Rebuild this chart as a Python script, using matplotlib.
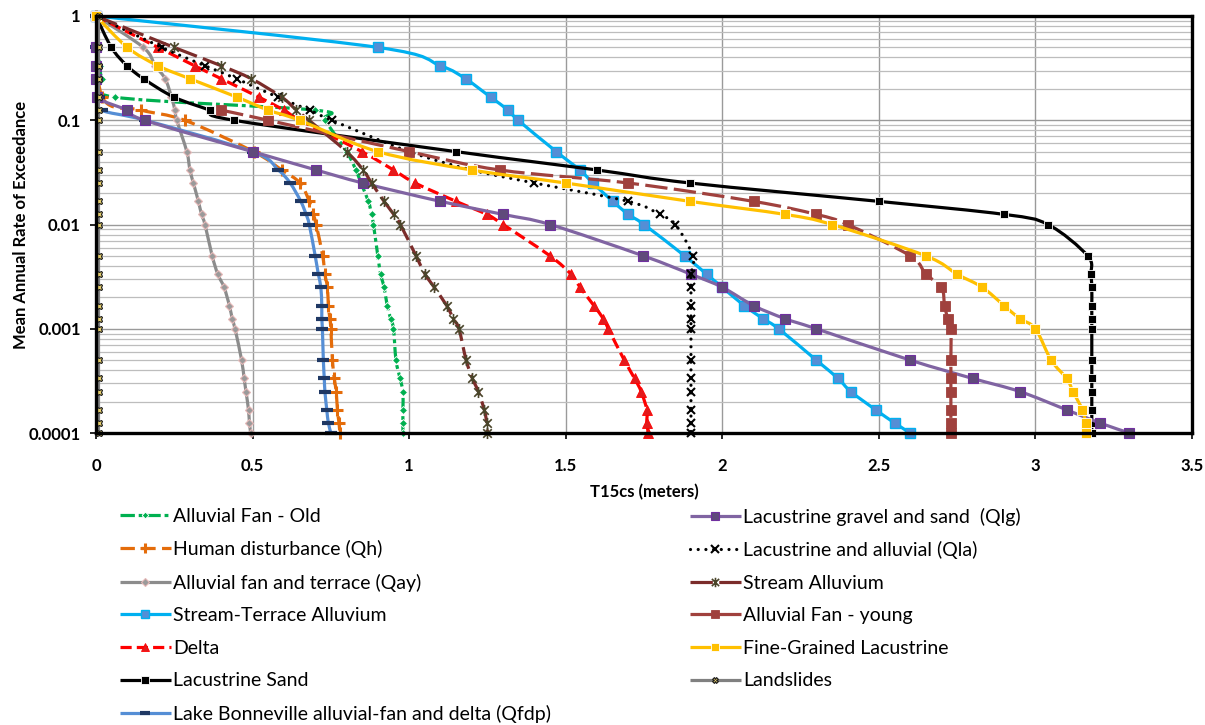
import numpy as np
import matplotlib
matplotlib.use("Agg")
import matplotlib.pyplot as plt
from matplotlib.path import Path
from matplotlib.patches import PathPatch
from matplotlib.lines import Line2D
from matplotlib.ticker import FixedLocator, FixedFormatter, NullFormatter, LogLocator

plt.rcParams['font.family'] = ['Lato', 'DejaVu Sans']

nan = np.nan

# Return periods (years); the y value is the mean annual rate 1/T
return_periods = np.array([1, 2, 3, 4, 6, 8, 10, 20, 30, 40, 60, 80, 100,
                           200, 300, 400, 600, 800, 1000, 2000, 3000, 4000,
                           6000, 8000, 10000], dtype=float)
rates = 1.0 / return_periods

# T15cs displacement (m) at each rate, one list per geologic unit
alluvial_fan_old = [0, 0.005, 0.012, 0.02, 0.06, 0.70, 0.73, 0.80, 0.83, 0.846, 0.87, 0.88,
                    0.886, 0.90, 0.909, 0.92, 0.93, 0.941, 0.95, 0.958, 0.971, 0.98, 0.98,
                    0.98, 0.98]
human_disturbance = [0, nan, nan, nan, 0.02, 0.145, 0.283, 0.503, 0.593, 0.652, 0.681, 0.694,
                     0.703, 0.724, 0.731, 0.739, 0.742, 0.747, 0.75, 0.755, 0.761, 0.767,
                     0.771, 0.776, 0.779]
fan_and_terrace = [0, 0.151, 0.189, 0.221, 0.241, 0.252, 0.258, 0.29, 0.30, 0.311, 0.327,
                   0.337, 0.348, 0.371, 0.389, 0.409, 0.426, 0.435, 0.444, 0.465, 0.473,
                   0.479, 0.487, 0.49, 0.494]
stream_terrace = [0, 0.90, 1.10, 1.18, 1.26, 1.316, 1.348, 1.47, 1.545, 1.587, 1.65, 1.70,
                  1.75, 1.88, 1.95, 2.0, 2.07, 2.13, 2.18, 2.30, 2.37, 2.41, 2.49, 2.55, 2.60]
delta = [0, 0.198, 0.315, 0.40, 0.52, 0.60, 0.652, 0.849, 0.95, 1.019, 1.15, 1.248, 1.30,
         1.45, 1.517, 1.546, 1.59, 1.62, 1.636, 1.687, 1.72, 1.741, 1.759, 1.759, 1.764]
lacustrine_sand = [0, 0.049, 0.099, 0.152, 0.249, 0.363, 0.44, 1.15, 1.60, 1.897, 2.50, 2.90,
                   3.04, 3.167, 3.177, 3.18, 3.18, 3.18, 3.18, 3.18, 3.18, 3.18, 3.18, 3.18,
                   3.18]
bonneville_qfdp = [0, 0.001, 0.002, 0.003, 0.01, 0.018, 0.157, 0.50, 0.582, 0.62, 0.654,
                   0.671, 0.681, 0.70, 0.71, 0.718, 0.721, 0.721, 0.723, 0.726, 0.729, 0.731,
                   0.737, 0.742, 0.75]
gravel_sand_qlg = [0, 0.0, 0.0, 0.0, 0.003, 0.10, 0.155, 0.50, 0.703, 0.852, 1.10, 1.30, 1.45,
                   1.748, 1.90, 2.0, 2.10, 2.20, 2.30, 2.60, 2.80, 2.95, 3.10, 3.205, 3.30]
lacustrine_alluvial_qla = [0, 0.21, 0.348, 0.449, 0.58, 0.682, 0.753, 1.0, 1.2, 1.40, 1.70,
                           1.80, 1.85, 1.906, 1.90, 1.90, 1.90, 1.90, 1.90, 1.90, 1.90, 1.90,
                           1.90, 1.90, 1.90]
stream_alluvium = [0, 0.249, 0.40, 0.496, 0.593, 0.64, 0.68, 0.80, 0.853, 0.88, 0.92, 0.951,
                   0.972, 1.022, 1.051, 1.08, 1.12, 1.141, 1.159, 1.182, 1.202, 1.221, 1.24,
                   1.248, 1.25]
alluvial_fan_young = [nan, nan, nan, nan, nan, 0.40, 0.55, 1.0, 1.29, 1.70, 2.10, 2.30, 2.40,
                      2.60, 2.65, 2.70, 2.71, 2.72, 2.73, 2.73, 2.73, 2.73, 2.73, 2.73, 2.73]
fine_grained = [0, 0.10, 0.198, 0.30, 0.45, 0.55, 0.65, 0.90, 1.20, 1.50, 1.897, 2.20, 2.35,
                2.65, 2.75, 2.83, 2.90, 2.95, 3.00, 3.05, 3.10, 3.12, 3.15, 3.16, 3.162]
landslides = [0.008] * 25

# Asterisk marker: an "x" crossed by a vertical bar
asterisk = Path([(-1, -1), (1, 1), (-1, 1), (1, -1), (0, -1.3), (0, 1.3)],
                [Path.MOVETO, Path.LINETO, Path.MOVETO, Path.LINETO, Path.MOVETO, Path.LINETO])

series = [
    ("Alluvial Fan - Old", alluvial_fan_old,
     dict(color='#00B050', dashes=(4.5, 1.2, 1.2, 1.2), cap='butt', marker='D', ms=4,
          mfc='#00B050', mec='white', mew=0.6)),
    ("Human disturbance (Qh)", human_disturbance,
     dict(color='#E46C0A', dashes=(4.5, 2), cap='butt', marker='+', ms=8,
          mfc='#E46C0A', mec='#E46C0A', mew=2.2)),
    ("Alluvial fan and terrace (Qay)", fan_and_terrace,
     dict(color='#8C8C8C', dashes=None, cap='butt', marker='D', ms=4.5,
          mfc='#9A9A9A', mec='#E6B9B8', mew=0.8)),
    ("Stream-Terrace Alluvium", stream_terrace,
     dict(color='#00B0F0', dashes=None, cap='round', marker='s', ms=7,
          mfc='#558ED5', mec='#00B0F0', mew=1.0)),
    ("Delta", delta,
     dict(color='#FF0000', dashes=(3.5, 1.6), cap='butt', marker='^', ms=7.5,
          mfc='#E31A1C', mec='#FF0000', mew=0.6)),
    ("Lacustrine Sand", lacustrine_sand,
     dict(color='black', dashes=None, cap='round', marker='s', ms=6,
          mfc='black', mec='white', mew=0.6)),
    ("Lake Bonneville alluvial-fan and delta (Qfdp)", bonneville_qfdp,
     dict(color='#558ED5', dashes=None, cap='round', marker='_', ms=8,
          mfc='#1F3864', mec='#1F3864', mew=3.0)),
    ("Lacustrine gravel and sand  (Qlg)", gravel_sand_qlg,
     dict(color='#8064A2', dashes=None, cap='round', marker='s', ms=7.5,
          mfc='#604A7B', mec='#7030A0', mew=0.8)),
    ("Lacustrine and alluvial (Qla)", lacustrine_alluvial_qla,
     dict(color='black', dashes=(0.01, 2.4), cap='round', marker='x', ms=6,
          mfc='black', mec='black', mew=1.5)),
    ("Stream Alluvium", stream_alluvium,
     dict(color='#7B2C2A', dashes=(7, 2), cap='butt', marker=asterisk, ms=8,
          mfc='none', mec='#4A452A', mew=1.2)),
    ("Alluvial Fan - young", alluvial_fan_young,
     dict(color='#A0413D', dashes=(7, 2), cap='butt', marker='s', ms=6.5,
          mfc='#A0413D', mec='#A0413D', mew=0.6)),
    ("Fine-Grained Lacustrine", fine_grained,
     dict(color='#FFC000', dashes=None, cap='round', marker='s', ms=6.5,
          mfc='#FFC000', mec='white', mew=0.6)),
    ("Landslides", landslides,
     dict(color='#808080', dashes=None, cap='round', marker='X', ms=5,
          mfc='#E2CB6A', mec='#1A1A1A', mew=0.8)),
]

W, H = 1205, 725
L, R, T, B = 96, 1192, 16, 433
fig = plt.figure(figsize=(W / 100, H / 100), dpi=100)
ax = fig.add_axes([L / W, 1 - B / H, (R - L) / W, (B - T) / H])

XMAX, DECADES = 3.5, 4.0
SX = (R - L) / XMAX
SY = (B - T) / DECADES


def smooth_path(xs, ys):
    """Bezier path through the points, tension computed in screen space."""
    P = np.column_stack([np.asarray(xs) * SX, np.log10(ys) * SY])
    n = len(P)
    verts = [P[0]]
    codes = [Path.MOVETO]
    for i in range(n - 1):
        p0 = P[i - 1] if i > 0 else P[i]
        p1, p2 = P[i], P[i + 1]
        p3 = P[i + 2] if i + 2 < n else P[i + 1]
        verts += [p1 + (p2 - p0) / 6.0, p2 - (p3 - p1) / 6.0, p2]
        codes += [Path.CURVE4] * 3
    V = np.array(verts)
    V[:, 0] = V[:, 0] / SX
    V[:, 1] = 10 ** (V[:, 1] / SY)
    return Path(V, codes)


LW = 2.3
handles = []
for k, (label, xs, st) in enumerate(series):
    xs = np.asarray(xs, dtype=float)
    ok = ~np.isnan(xs)
    x, y = xs[ok], rates[ok]
    ls = '-' if st['dashes'] is None else (0, st['dashes'])
    patch = PathPatch(smooth_path(x, y), facecolor='none', edgecolor=st['color'],
                      lw=LW, linestyle=ls, capstyle=st['cap'], joinstyle='round',
                      zorder=3 + 2 * k)
    ax.add_patch(patch)
    ax.plot(x, y, linestyle='none', marker=st['marker'], ms=st['ms'],
            mfc=st['mfc'], mec=st['mec'], mew=st['mew'], zorder=4 + 2 * k,
            clip_on=False)
    h = Line2D([0], [0], color=st['color'], lw=LW, linestyle=ls,
               dash_capstyle=st['cap'], solid_capstyle='butt',
               marker=st['marker'], ms=st['ms'] * 0.85, mfc=st['mfc'], mec=st['mec'],
               mew=st['mew'])
    handles.append((h, label))

ax.set_yscale('log')
ax.set_xlim(0, XMAX)
ax.set_ylim(1e-4, 1)

ax.xaxis.set_major_locator(FixedLocator([0, 0.5, 1, 1.5, 2, 2.5, 3, 3.5]))
ax.xaxis.set_major_formatter(FixedFormatter(['0', '0.5', '1', '1.5', '2', '2.5', '3', '3.5']))
ax.yaxis.set_major_locator(FixedLocator([1e-4, 1e-3, 1e-2, 1e-1, 1]))
ax.yaxis.set_major_formatter(FixedFormatter(['0.0001', '0.001', '0.01', '0.1', '1']))
ax.yaxis.set_minor_locator(LogLocator(base=10, subs=np.arange(2, 10)))
ax.yaxis.set_minor_formatter(NullFormatter())

ax.grid(True, which='major', axis='both', color='#9A9A9A', lw=1.0, zorder=0)
ax.grid(True, which='minor', axis='y', color='#BDBDBD', lw=0.9, zorder=0)
ax.set_axisbelow(True)

for s in ax.spines.values():
    s.set_linewidth(2.4)
    s.set_color('black')
    s.set_zorder(40)

ax.tick_params(axis='both', which='major', direction='out', length=4, width=1.2,
               labelsize=12)
ax.tick_params(axis='x', which='major', pad=14)
ax.tick_params(axis='y', which='major', pad=7)
ax.tick_params(axis='y', which='minor', length=0)
for lbl in ax.get_xticklabels() + ax.get_yticklabels():
    lbl.set_fontweight('bold')

ax.set_xlabel('T15cs (meters)', fontsize=12, fontweight='bold', labelpad=7)
ax.set_ylabel('Mean Annual Rate of Exceedance', fontsize=12, fontweight='bold', labelpad=0)

# Legend in two columns below the plot
left_items = handles[:7]
right_items = handles[7:]
leg_kw = dict(frameon=False, fontsize=14, handlelength=2.6, handletextpad=0.15,
              labelspacing=0.8, borderpad=0, borderaxespad=0, loc='upper left')
leg1 = fig.legend([h for h, _ in left_items], [l for _, l in left_items],
                  bbox_to_anchor=(120 / W, 1 - 507.5 / H), **leg_kw)
leg2 = fig.legend([h for h, _ in right_items], [l for _, l in right_items],
                  bbox_to_anchor=(690 / W, 1 - 507.5 / H), **leg_kw)

fig.savefig('out.png', dpi=100)
